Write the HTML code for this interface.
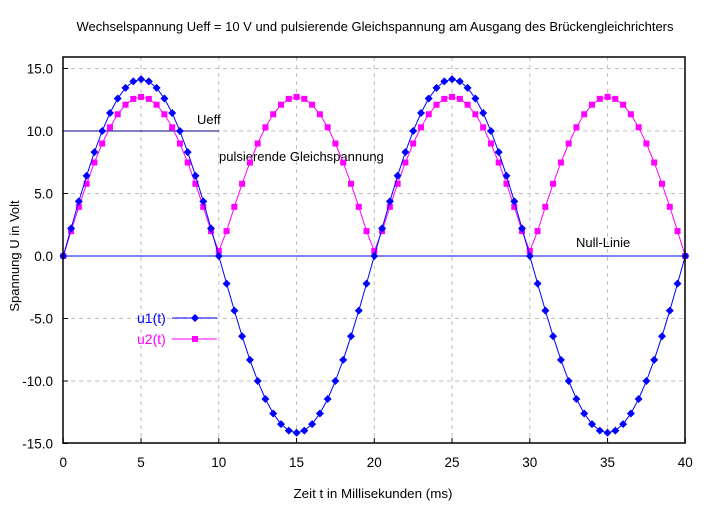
<!DOCTYPE html>
<html><head><meta charset="utf-8"><style>
html,body{margin:0;padding:0;background:#fff}
svg{display:block;font-family:"Liberation Sans",sans-serif}
</style></head><body>
<svg id="s" width="721" height="512" xmlns="http://www.w3.org/2000/svg">
<rect width="721" height="512" fill="#fff"/>
<text x="375" y="31" font-size="13" text-anchor="middle" textLength="597" lengthAdjust="spacingAndGlyphs">Wechselspannung Ueff = 10 V und pulsierende Gleichspannung am Ausgang des Brückengleichrichters</text>
<g id="grid" stroke="#c0c0c0" stroke-dasharray="4,4" stroke-width="1"></g>
<g id="ticks" font-size="13.5"></g>
<line x1="63" y1="131" x2="219" y2="131" stroke="#000080" stroke-width="1"/>
<line x1="63" y1="256" x2="685" y2="256" stroke="#0000ff" stroke-width="1"/>
<text x="197" y="124" font-size="13">Ueff</text>
<text x="219" y="161" font-size="13">pulsierende Gleichspannung</text>
<text x="576" y="247" font-size="13">Null-Linie</text>
<g id="series"></g>
<rect x="63" y="57" width="622" height="386" fill="none" stroke="#000" stroke-width="1.5"/>
<text x="137" y="323" font-size="14" fill="#0000ff">u1(t)</text>
<line x1="172" y1="318" x2="217" y2="318" stroke="#0000ff"/>
<text x="137" y="344" font-size="14" fill="#ff00ff">u2(t)</text>
<line x1="172" y1="339" x2="217" y2="339" stroke="#ff00ff"/>
<path d="M195,314 L199,318 L195,322 L191,318Z" fill="#0000ff"/>
<rect x="192" y="336" width="6" height="6" fill="#ff00ff"/>
<text x="373" y="498" font-size="13" text-anchor="middle" textLength="159" lengthAdjust="spacingAndGlyphs">Zeit t  in Millisekunden (ms)</text>
<text transform="translate(19,256) rotate(-90)" font-size="13" text-anchor="middle">Spannung U in Volt</text>
</svg>
<script>
var NS="http://www.w3.org/2000/svg";
function X(t){return 63.3+t*15.55}
function Y(v){return 256-v*12.5}
function el(p,n,a,txt){var e=document.createElementNS(NS,n);for(var k in a)e.setAttribute(k,a[k]);if(txt!=null)e.textContent=txt;document.getElementById(p).appendChild(e);return e}
for(var t=5;t<40;t+=5)el("grid","line",{x1:X(t),y1:57,x2:X(t),y2:443});
for(var v=-10;v<=15;v+=5){if(v==0)continue;el("grid","line",{x1:63,y1:Y(v),x2:685,y2:Y(v)});}
for(var t=0;t<=40;t+=5){el("ticks","text",{x:X(t),y:467,"text-anchor":"middle"},String(t));el("ticks","line",{x1:X(t),y1:443,x2:X(t),y2:438,stroke:"#000"});}
for(var v=-15;v<=15;v+=5){el("ticks","text",{x:53,y:Y(v)+5,"text-anchor":"end"},v.toFixed(1));el("ticks","line",{x1:63,y1:Y(v),x2:68,y2:Y(v),stroke:"#000"});}
var p1="",p2="",m="";
for(var i=0;i<=80;i++){var t=i*0.5;var u=14.14*Math.sin(2*Math.PI*t/20);var u2=(i==0||i==80)?0:Math.max(0.9*Math.abs(u),0.4);
var x=X(t),y1=Y(u),y2=Y(u2);p1+=(i?"L":"M")+x.toFixed(1)+","+y1.toFixed(1);p2+=(i?"L":"M")+x.toFixed(1)+","+y2.toFixed(1);
el("series","rect",{x:x-3,y:y2-3,width:6,height:6,fill:"#ff00ff"});
m+="M"+x.toFixed(1)+","+(y1-4).toFixed(1)+"l4,4l-4,4l-4,-4Z";}
el("series","path",{d:p2,fill:"none",stroke:"#ff00ff"});
el("series","path",{d:p1,fill:"none",stroke:"#0000ff"});
el("series","path",{d:m,fill:"#0000ff"});
</script>
</body></html>
